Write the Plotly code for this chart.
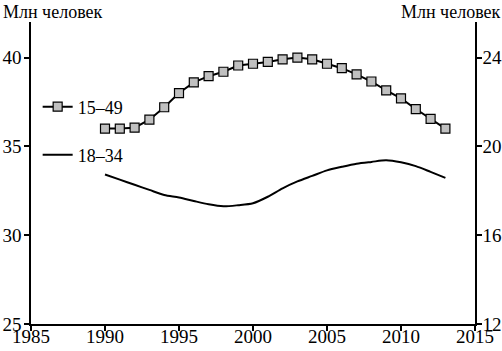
import plotly.graph_objects as go

years = list(range(1990, 2014))
age_15_49 = [36.0, 36.0, 36.05, 36.5, 37.2, 38.0, 38.6, 38.95, 39.2, 39.55, 39.65, 39.75,
             39.9, 40.0, 39.9, 39.65, 39.4, 39.05, 38.65, 38.15, 37.7, 37.1, 36.55, 36.0]
age_18_34 = [18.73, 18.50, 18.27, 18.04, 17.81, 17.70, 17.54, 17.39, 17.30, 17.35, 17.44, 17.73,
             18.11, 18.42, 18.67, 18.92, 19.08, 19.22, 19.30, 19.37, 19.28, 19.11, 18.85, 18.58]
x_ticks = [1985, 1990, 1995, 2000, 2005, 2010, 2015]
left_ticks = [25, 30, 35, 40]
right_ticks = [12, 16, 20, 24]
unit_label = "Млн человек"

font = dict(family="Liberation Serif", size=18, color="black")
tick_font = dict(family="Liberation Serif", size=19, color="black")

fig = go.Figure()
fig.add_trace(go.Scatter(
    x=years, y=age_15_49, name="15–49", mode="lines+markers",
    line=dict(color="black", width=2),
    marker=dict(symbol="square", size=9, color="#c0c0c0", line=dict(color="black", width=1.2)),
    yaxis="y", legend="legend"))
fig.add_trace(go.Scatter(
    x=years, y=age_18_34, name="18–34", mode="lines",
    line=dict(color="black", width=2, shape="spline", smoothing=0.8),
    yaxis="y2", legend="legend2"))

axis_common = dict(showline=True, linecolor="black", linewidth=1.5, ticks="outside",
                   ticklen=5, tickwidth=1.5, tickcolor="black", showgrid=False,
                   zeroline=False, tickfont=tick_font, automargin=False)

fig.update_layout(
    width=502, height=351,
    margin=dict(l=31, r=27, t=22, b=27),
    paper_bgcolor="white", plot_bgcolor="white",
    font=font,
    xaxis=dict(range=[1985, 2015], tickvals=x_ticks, ticklabelstandoff=-11, **axis_common),
    yaxis=dict(range=[25, 42], tickvals=left_ticks, ticklabelstandoff=-1, **axis_common),
    yaxis2=dict(range=[12, 25.6], tickvals=right_ticks, overlaying="y", side="right",
                anchor="x", ticklabelstandoff=-3, **axis_common),
    legend=dict(x=0.015, y=0.7185, xanchor="left", yanchor="middle",
                bgcolor="rgba(0,0,0,0)", font=font),
    legend2=dict(x=0.015, y=0.5596, xanchor="left", yanchor="middle",
                 bgcolor="rgba(0,0,0,0)", font=font),
    showlegend=True,
    annotations=[
        dict(text=unit_label, xref="paper", yref="paper", x=-30/444, y=(324-12)/302,
             xanchor="left", yanchor="middle", showarrow=False, font=font),
        dict(text=unit_label, xref="paper", yref="paper", x=(503-31)/444, y=(324-12)/302,
             xanchor="right", yanchor="middle", showarrow=False, font=font),
    ],
)

fig.write_html("out.html")
